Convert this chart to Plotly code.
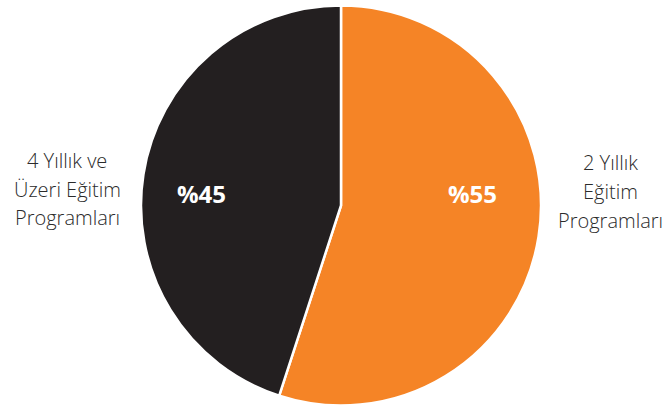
import plotly.graph_objects as go

categories = ["2 Yıllık<br>Eğitim<br>Programları", "4 Yıllık ve<br>Üzeri Eğitim<br>Programları"]
values = [55, 45]
colors = ["#F58426", "#231F20"]

W, H = 667, 407

fig = go.Figure(go.Pie(
    labels=categories,
    values=values,
    sort=False,
    direction="clockwise",
    rotation=0,
    marker=dict(colors=colors, line=dict(color="white", width=2.5)),
    textinfo="none",
    hoverinfo="label+percent",
    showlegend=False,
    domain=dict(x=[141 / W, 541 / W], y=[1 - 405.5 / H, 1 - 5.5 / H]),
))

font_family = "'Open Sans', 'Noto Sans', sans-serif"

def px_ann(text, x, y, size, color, weight="normal"):
    fig.add_annotation(text=text, x=x / W, y=1 - y / H, xref="paper", yref="paper",
                       xanchor="center", yanchor="middle", showarrow=False,
                       font=dict(family=font_family, size=size, color=color, weight=weight))

# outside category labels, one annotation per line
right_lines = categories[0].split("<br>")
left_lines = categories[1].split("<br>")
for i, line in enumerate(right_lines):
    px_ann(line, 610, 163 + 28.5 * i, 20, "#2b2b2b", 300)
for i, line in enumerate(left_lines):
    px_ann(line, 67, 160.5 + 28.5 * i, 20, "#2b2b2b", 300)

# inside percentage labels
px_ann(f"%{values[0]}", 472, 193, 24, "white", "bold")
px_ann(f"%{values[1]}", 201, 193, 24, "white", "bold")

fig.update_layout(width=W, height=H, margin=dict(l=0, r=0, t=0, b=0),
                  paper_bgcolor="white", plot_bgcolor="white")
fig.write_html("out.html", config={"displayModeBar": False},
               post_script="document.body.style.margin='0';")
